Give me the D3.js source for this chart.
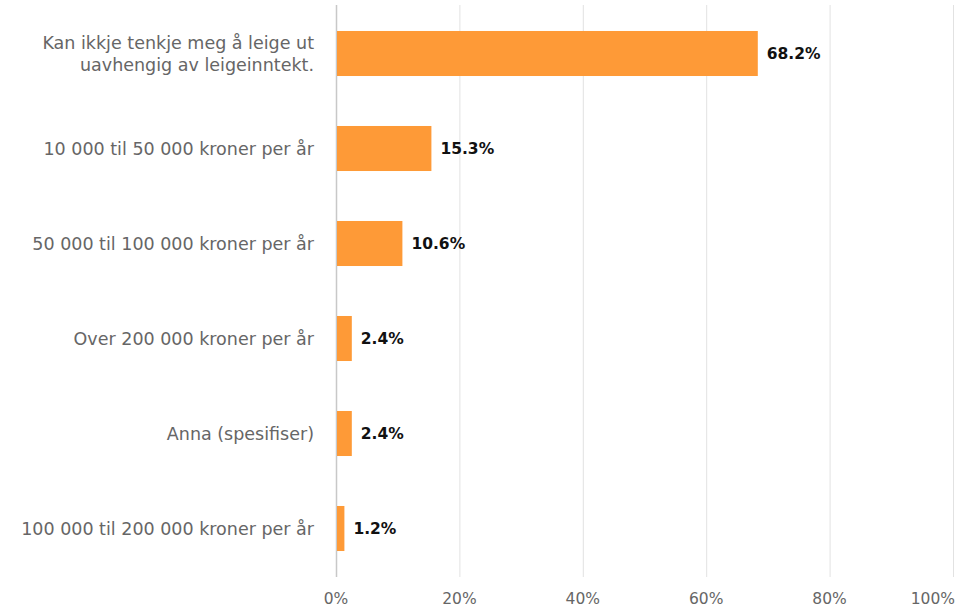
<!DOCTYPE html>
<html><head><meta charset="utf-8">
<script src="https://cdn.jsdelivr.net/npm/d3@7"></script>
<style>body{margin:0;background:#fff}svg{display:block}</style>
</head><body><svg id="c" width="969" height="608"></svg>
<script>
const categories = [
  ["Kan ikkje tenkje meg å leige ut", "uavhengig av leigeinntekt."],
  ["10 000 til 50 000 kroner per år"],
  ["50 000 til 100 000 kroner per år"],
  ["Over 200 000 kroner per år"],
  ["Anna (spesifiser)"],
  ["100 000 til 200 000 kroner per år"]
];
const values = [68.2, 15.3, 10.6, 2.4, 2.4, 1.2];
const tickValues = [0, 20, 40, 60, 80, 100];

(function () {
const svg = d3.select("#c");
const pl = 336, pr = 953, pt = 6, pb = 576;
const x = d3.scaleLinear().domain([0, 100]).range([pl, pr]);
const y = d3.scaleBand().domain(d3.range(categories.length)).range([pt, pb]).paddingInner(0.526).paddingOuter(0.263);
const font = "DejaVu Sans, Verdana, sans-serif";

svg.append("g").selectAll("line").data(tickValues).join("line")
  .attr("x1", d => x(d) + 0.5).attr("x2", d => x(d) + 0.5)
  .attr("y1", pt - 1).attr("y2", pb + 1)
  .attr("stroke", d => d === 0 ? "#c8c8c8" : "#e2e2e2").attr("stroke-width", d => d === 0 ? 1.5 : 1);

svg.append("g").selectAll("rect").data(values).join("rect")
  .attr("x", x(0) + 1).attr("y", (d, i) => y(i))
  .attr("width", d => x(d) - x(0)).attr("height", y.bandwidth())
  .attr("fill", "#fe9a37");

svg.append("g").selectAll("text").data(values).join("text")
  .attr("x", d => x(d) + 10).attr("y", (d, i) => y(i) + y.bandwidth() / 2)
  .attr("dy", "0.36em").attr("font-family", font).attr("font-size", 15.5).attr("font-weight", "bold")
  .attr("fill", "#111").text(d => d.toFixed(1) + "%");

const cl = svg.append("g").selectAll("text").data(categories).join("text")
  .attr("text-anchor", "end")
  .attr("y", (d, i) => y(i) + y.bandwidth() / 2)
  .attr("font-family", font).attr("font-size", 17.5).attr("fill", "#666");
cl.each(function (d) {
  const t = d3.select(this);
  const n = d.length;
  d.forEach((line, j) => {
    t.append("tspan").attr("x", pl - 22)
      .attr("dy", j === 0 ? (0.36 - (n - 1) * 0.63) + "em" : "1.26em").text(line);
  });
});

svg.append("g").selectAll("text").data(tickValues).join("text")
  .attr("x", d => d === 100 ? pr + 2 : x(d))
  .attr("text-anchor", d => d === 100 ? "end" : "middle")
  .attr("y", 604).attr("font-family", font).attr("font-size", 15.5).attr("fill", "#666")
  .text(d => d + "%");
})();
</script></body></html>
